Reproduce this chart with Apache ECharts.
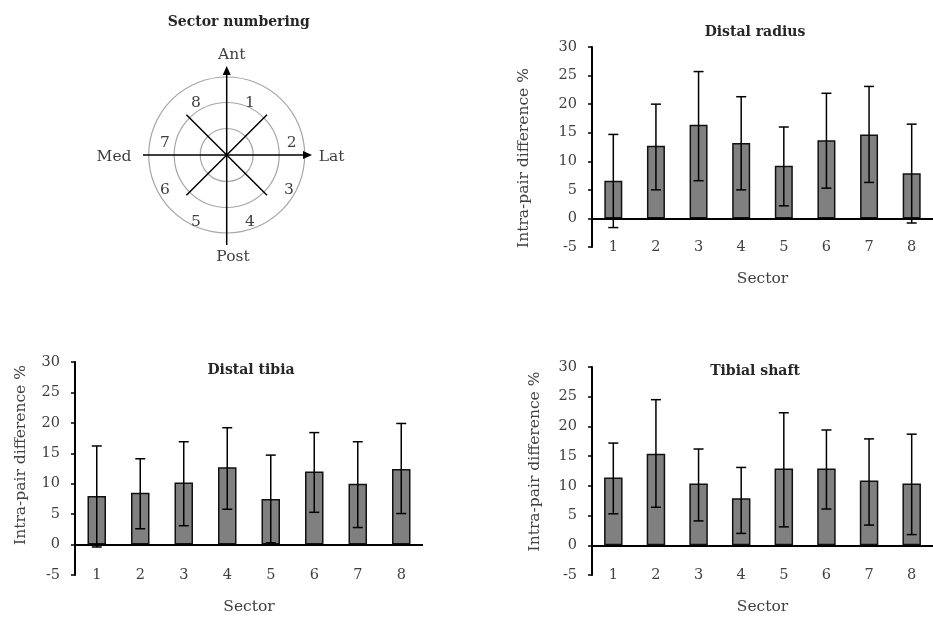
<!DOCTYPE html>
<html>
<head>
<meta charset="utf-8">
<script src="https://cdn.jsdelivr.net/npm/echarts@6/dist/echarts.min.js"></script>
<style>html,body{margin:0;padding:0;background:#fff}#c{width:933px;height:617px}</style>
</head>
<body>
<div id="c"></div>
<script>
// ---------- data ----------
var sectors = ['1', '2', '3', '4', '5', '6', '7', '8'];
var yTicks = [-5, 0, 5, 10, 15, 20, 25, 30];
var directionLabels = ['Ant', 'Lat', 'Post', 'Med'];

var radiusMean = [6.6, 12.7, 16.4, 13.2, 9.2, 13.7, 14.7, 7.9];
var radiusLow  = [-1.6, 5.0, 6.6, 5.0, 2.2, 5.3, 6.3, -0.8];
var radiusHigh = [14.7, 20.0, 25.7, 21.3, 16.0, 21.9, 23.1, 16.5];

var tibiaMean = [8.0, 8.5, 10.2, 12.7, 7.5, 12.0, 10.0, 12.4];
var tibiaLow  = [-0.4, 2.6, 3.1, 5.8, 0.3, 5.3, 2.8, 5.1];
var tibiaHigh = [16.2, 14.1, 16.9, 19.2, 14.7, 18.4, 16.9, 19.9];

var shaftMean = [11.4, 15.4, 10.4, 7.9, 12.9, 12.9, 10.9, 10.4];
var shaftLow  = [5.3, 6.4, 4.1, 2.0, 3.1, 6.1, 3.4, 1.8];
var shaftHigh = [17.2, 24.5, 16.2, 13.1, 22.3, 19.4, 17.9, 18.7];

var panelTitles = ['Distal radius', 'Distal tibia', 'Tibial shaft'];
var yName = 'Intra-pair difference %';
var xName = 'Sector';
var diagramTitle = 'Sector numbering';

// ---------- style / layout ----------
var FONT = "'DejaVu Serif', serif";
var FS = 14.5;    // tick labels
var FST = 14;     // titles
var FSN = 15.5;   // axis names, diagram labels
var TXT = '#262626';
var GRAY = '#404040';

var panels = [
  {title: panelTitles[0], mean: radiusMean, low: radiusLow, high: radiusHigh,
   grid: {left: 592, top: 47, width: 341, height: 200}, barW: 18, nameGap: 60, namePad: [0, 22, 0, 0],
   titlePos: {left: 755, top: 25}},
  {title: panelTitles[1], mean: tibiaMean, low: tibiaLow, high: tibiaHigh,
   grid: {left: 75, top: 362, width: 348, height: 213}, barW: 18.5, nameGap: 46, namePad: [0, 0, 0, 27],
   titlePos: {left: 251, top: 363}},
  {title: panelTitles[2], mean: shaftMean, low: shaftLow, high: shaftHigh,
   grid: {left: 592, top: 367, width: 347, height: 208}, barW: 18.5, nameGap: 49, namePad: [0, 0, 0, 19],
   titlePos: {left: 755, top: 364}}
];

var grids = [], xAxes = [], yAxes = [], series = [], titles = [];

titles.push({text: diagramTitle, left: 238.7, top: 15, textAlign: 'center', padding: 0,
  textStyle: {fontFamily: FONT, fontSize: FST, fontWeight: 'bold', color: TXT}});

panels.forEach(function (p, i) {
  grids.push(Object.assign({containLabel: false}, p.grid));
  titles.push({text: p.title, left: p.titlePos.left, top: p.titlePos.top, textAlign: 'center', padding: 0,
    textStyle: {fontFamily: FONT, fontSize: FST, fontWeight: 'bold', color: TXT}});
  xAxes.push({
    gridIndex: i, type: 'category', data: sectors, boundaryGap: true,
    axisLine: {show: false, onZero: false}, axisTick: {show: false},
    axisLabel: {margin: 0, verticalAlign: 'middle', fontFamily: FONT, fontSize: FS, color: GRAY},
    name: xName, nameLocation: 'middle', nameGap: 24,
    nameTextStyle: {fontFamily: FONT, fontSize: FSN, color: GRAY}
  });
  yAxes.push({
    gridIndex: i, type: 'value',
    min: yTicks[0], max: yTicks[yTicks.length - 1], interval: yTicks[1] - yTicks[0],
    splitLine: {show: false},
    axisLine: {show: true, onZero: false, lineStyle: {color: '#000', width: 2}},
    axisTick: {show: true, length: 4, lineStyle: {color: '#000', width: 1.5}},
    axisLabel: {margin: 15, fontFamily: FONT, fontSize: FS, color: GRAY},
    name: yName, nameLocation: 'middle', nameGap: p.nameGap,
    nameTextStyle: {fontFamily: FONT, fontSize: FSN, color: GRAY, padding: p.namePad}
  });
  series.push({
    type: 'bar', xAxisIndex: i, yAxisIndex: i, data: p.mean, barWidth: p.barW,
    itemStyle: {color: '#808080', borderColor: '#111', borderWidth: 1.5},
    z: 2,
    markLine: {silent: true, symbol: 'none', label: {show: false},
      lineStyle: {color: '#000', width: 2, type: 'solid'}, data: [{yAxis: 0}], z: 3}
  });
  series.push({
    type: 'custom', xAxisIndex: i, yAxisIndex: i, z: 4,
    data: sectors.map(function (s, k) { return [k, p.low[k], p.high[k]]; }),
    encode: {x: 0, y: [1, 2]},
    renderItem: function (params, api) {
      var x = api.value(0);
      var a = api.coord([x, api.value(1)]);
      var b = api.coord([x, api.value(2)]);
      var hw = 5;
      var st = {stroke: '#000', lineWidth: 1.5};
      return {type: 'group', children: [
        {type: 'line', shape: {x1: a[0], y1: a[1], x2: b[0], y2: b[1]}, style: st},
        {type: 'line', shape: {x1: b[0] - hw, y1: b[1], x2: b[0] + hw, y2: b[1]}, style: st},
        {type: 'line', shape: {x1: a[0] - hw, y1: a[1], x2: a[0] + hw, y2: a[1]}, style: st}
      ]};
    }
  });
});

// ---------- sector diagram (schematic) ----------
var cx = 226.7, cy = 155;
var ringRadii = [26.5, 52.5, 78];
var diagR = 57;
var numPos = [[250, 103], [291.7, 143], [289, 189.5], [250, 221.5], [196, 221.5], [165, 190], [165, 143], [196, 103]];
var dirPos = [[231.7, 55], [331.7, 157], [233, 257], [114, 157]];

var graphics = [];
ringRadii.forEach(function (r) {
  graphics.push({type: 'circle', shape: {cx: cx, cy: cy, r: r},
    style: {fill: 'none', stroke: '#a6a6a6', lineWidth: 1.2}});
});
var blk = {stroke: '#000', lineWidth: 1.5};
graphics.push({type: 'line', shape: {x1: cx, y1: 245, x2: cx, y2: 72}, style: blk});
graphics.push({type: 'line', shape: {x1: 143, y1: cy, x2: 306, y2: cy}, style: blk});
var d = diagR / Math.SQRT2;
graphics.push({type: 'line', shape: {x1: cx - d, y1: cy - d, x2: cx + d, y2: cy + d}, style: blk});
graphics.push({type: 'line', shape: {x1: cx + d, y1: cy - d, x2: cx - d, y2: cy + d}, style: blk});
graphics.push({type: 'polygon', shape: {points: [[cx, 66], [cx - 4, 75], [cx + 4, 75]]}, style: {fill: '#000'}});
graphics.push({type: 'polygon', shape: {points: [[312, cy], [303, cy - 4], [303, cy + 4]]}, style: {fill: '#000'}});
sectors.forEach(function (s, k) {
  graphics.push({type: 'text', x: numPos[k][0], y: numPos[k][1],
    style: {text: s, fontFamily: FONT, fontSize: FSN, fill: GRAY, align: 'center', verticalAlign: 'middle'}});
});
directionLabels.forEach(function (s, k) {
  graphics.push({type: 'text', x: dirPos[k][0], y: dirPos[k][1],
    style: {text: s, fontFamily: FONT, fontSize: FSN, fill: GRAY, align: 'center', verticalAlign: 'middle'}});
});

var chart = echarts.init(document.getElementById('c'), null, {renderer: 'canvas'});
chart.setOption({
  backgroundColor: '#fff',
  animation: false,
  title: titles,
  grid: grids,
  xAxis: xAxes,
  yAxis: yAxes,
  series: series,
  graphic: graphics
});
</script>
</body>
</html>
